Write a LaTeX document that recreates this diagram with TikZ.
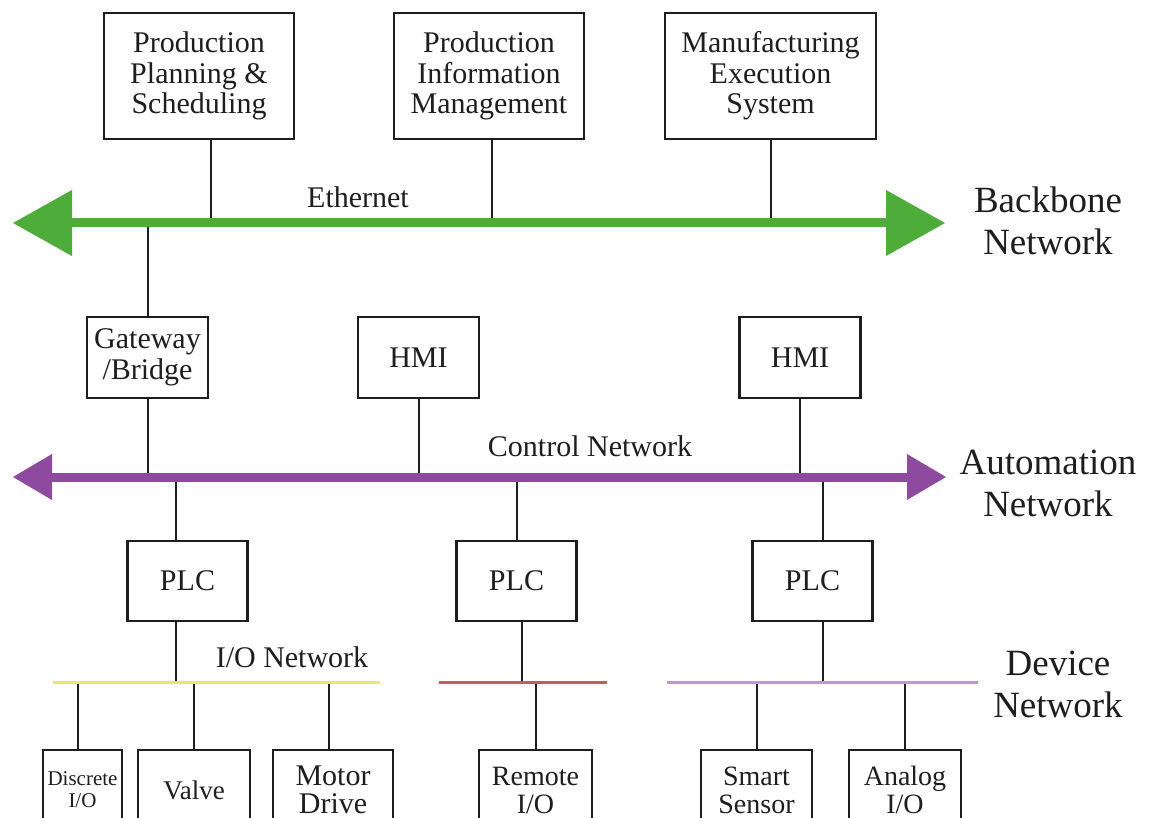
\documentclass[tikz,border=0pt]{standalone}
\usepackage{fontspec}
\setmainfont{Liberation Serif}
\definecolor{gbus}{RGB}{77,172,58}
\definecolor{pbus}{RGB}{142,74,158}
\definecolor{ybus}{RGB}{232,232,100}
\definecolor{rbus}{RGB}{192,96,84}
\definecolor{lbus}{RGB}{196,150,206}
\definecolor{ink}{RGB}{30,30,30}
\tikzset{
  box/.style={draw=ink, text=ink, line width=2.2pt, align=center, inner sep=0pt},
  link/.style={draw=ink, line width=2pt},
  lbl/.style={text=ink, align=center, inner sep=0pt},
  fbig/.style={font=\fontsize{30}{30.5}\selectfont},
  fhuge/.style={font=\fontsize{37}{42}\selectfont},
  fdev/.style={font=\fontsize{28}{28}\selectfont},
  topbox/.style={box, fbig, minimum height=126pt},
  midbox/.style={box, fbig, minimum width=121pt, minimum height=81pt},
  plcbox/.style={box, fbig, minimum width=120pt, minimum height=80pt},
  devbox/.style={box, minimum height=80pt},
  devbus/.style={line width=3pt}
}
\begin{document}
\begin{tikzpicture}[x=1pt,y=-1pt]
\clip (0,0) rectangle (1154,818);
\fill[white] (0,0) rectangle (1154,818);

% ---------- top level boxes
\node[topbox, minimum width=190pt] (pps) at (199,76) {Production\\Planning \&\\Scheduling};
\node[topbox, minimum width=190pt] (pim) at (489,76) {Production\\Information\\Management};
\node[topbox, minimum width=211pt] (mes) at (770.5,76) {Manufacturing\\Execution\\System};

% ---------- automation level boxes
\node[midbox] (gw) at (147.5,357.5) {Gateway\\/Bridge};
\node[midbox] (hmia) at (418.5,357.5) {HMI};
\node[midbox] (hmib) at (800,357.5) {HMI};

\node[plcbox] (plca) at (187.5,581) {PLC};
\node[plcbox] (plcb) at (516.5,581) {PLC};
\node[plcbox] (plcc) at (812.5,581) {PLC};

% ---------- device boxes
\node[devbox, minimum width=79pt, font=\fontsize{21}{22}\selectfont] (disc) at (82.5,790) {Discrete\\I/O};
\node[devbox, minimum width=112pt, font=\fontsize{27}{28}\selectfont] (valve) at (194,790) {Valve};
\node[devbox, minimum width=120pt, font=\fontsize{30}{28}\selectfont] (motor) at (333,790) {Motor\\Drive};
\node[devbox, minimum width=113pt, fdev] (remote) at (535.5,790) {Remote\\I/O};
\node[devbox, minimum width=111pt, fdev] (smart) at (756.5,790) {Smart\\Sensor};
\node[devbox, minimum width=112pt, fdev] (analog) at (905,790) {Analog\\I/O};

% ---------- bus end points
\coordinate (gl) at (13,223);  \coordinate (gr) at (945,223);
\coordinate (pl) at (13,477);  \coordinate (pr) at (946,477);
\coordinate (yl) at (53,682);  \coordinate (yr) at (380,682);
\coordinate (rl) at (439,682); \coordinate (rr) at (607,682);
\coordinate (ll) at (667,682); \coordinate (lr) at (978,682);

% ---------- connectors
\draw[link] ([xshift=12pt]pps.south) -- ([xshift=12pt]pps.south |- gl);
\draw[link] ([xshift=3pt]pim.south) -- ([xshift=3pt]pim.south |- gl);
\draw[link] (mes.south) -- (mes.south |- gl);
\draw[link] (gw.north) -- (gw.north |- gl);
\draw[link] (gw.south) -- (gw.south |- pl);
\draw[link] (hmia.south) -- (hmia.south |- pl);
\draw[link] (hmib.south) -- (hmib.south |- pl);
\draw[link] ([xshift=-11.5pt]plca.north) -- ([xshift=-11.5pt]plca.north |- pl);
\draw[link] (plcb.north) -- (plcb.north |- pl);
\draw[link] ([xshift=10.5pt]plcc.north) -- ([xshift=10.5pt]plcc.north |- pl);
\draw[link] ([xshift=-11.5pt]plca.south) -- ([xshift=-11.5pt]plca.south |- yl);
\draw[link] ([xshift=5.5pt]plcb.south) -- ([xshift=5.5pt]plcb.south |- rl);
\draw[link] ([xshift=10.5pt]plcc.south) -- ([xshift=10.5pt]plcc.south |- ll);
\draw[link] ([xshift=-4.5pt]disc.north) -- ([xshift=-4.5pt]disc.north |- yl);
\draw[link] (valve.north) -- (valve.north |- yl);
\draw[link] ([xshift=-4pt]motor.north) -- ([xshift=-4pt]motor.north |- yl);
\draw[link] (remote.north) -- (remote.north |- rl);
\draw[link] (smart.north) -- (smart.north |- ll);
\draw[link] (analog.north) -- (analog.north |- ll);

% ---------- buses
\draw[gbus, line width=9pt] ([xshift=58pt]gl) -- ([xshift=-58pt]gr);
\fill[gbus] (gl) -- ++(59,-33) -- ++(0,66) -- cycle;
\fill[gbus] (gr) -- ++(-59,-33) -- ++(0,66) -- cycle;

\draw[pbus, line width=9pt] ([xshift=38pt]pl) -- ([xshift=-38pt]pr);
\fill[pbus] (pl) -- ++(39,-23) -- ++(0,46) -- cycle;
\fill[pbus] (pr) -- ++(-39,-23) -- ++(0,46) -- cycle;

\draw[ybus, devbus] (yl) -- (yr);
\draw[rbus, devbus] (rl) -- (rr);
\draw[lbus, devbus] (ll) -- (lr);

% ---------- labels
\node[lbl, fbig] (eth) at (358,197) {Ethernet};
\node[lbl, fhuge] (bbn) at (1048,221) {Backbone\\Network};
\node[lbl, fbig] (ctl) at (590,446) {Control Network};
\node[lbl, fhuge] (aun) at (1048,483) {Automation\\Network};
\node[lbl, fbig] (ion) at (292,657) {I/O Network};
\node[lbl, fhuge] (dvn) at (1058,684) {Device\\Network};
\end{tikzpicture}
\end{document}
